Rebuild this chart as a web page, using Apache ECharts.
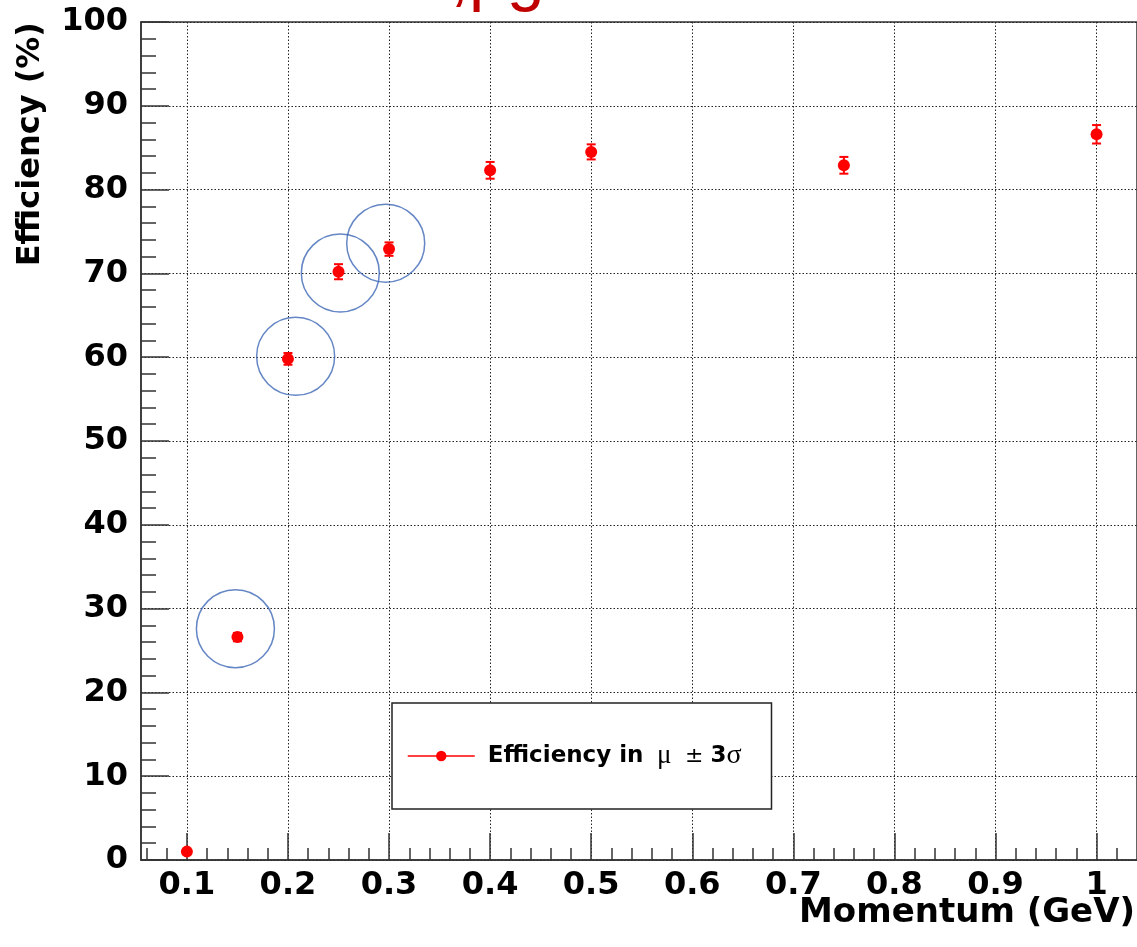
<!DOCTYPE html>
<html>
<head>
<meta charset="utf-8">
<title>Efficiency vs Momentum</title>
<script src="https://cdn.jsdelivr.net/npm/echarts@6/dist/echarts.min.js"></script>
<style>
  html, body { margin: 0; padding: 0; background: #fff; }
  #chart { width: 1137px; height: 947px; }
</style>
</head>
<body>
<div id="chart"></div>
<script>
// Momentum points (GeV) and measured efficiency (%) with symmetric errors
const momentum = [0.1, 0.15, 0.2, 0.25, 0.3, 0.4, 0.5, 0.75, 1.0];
const efficiency = [1.0, 26.6, 59.8, 70.2, 72.9, 82.3, 84.5, 82.9, 86.6];
const efficiencyErr = [0.2, 0.5, 0.7, 0.9, 0.8, 1.0, 0.9, 1.0, 1.1];

// Hand-drawn highlight rings (centre momentum, centre efficiency)
const ringX = [0.148, 0.2076, 0.2518, 0.2967];
const ringY = [27.6, 60.1, 70.05, 73.6];

// Axis tick labels
const xTickLabels = [0.1, 0.2, 0.3, 0.4, 0.5, 0.6, 0.7, 0.8, 0.9, 1];
const yTickLabels = [0, 10, 20, 30, 40, 50, 60, 70, 80, 90, 100];

const xMin = 0.0546, xMax = 1.04;

// minor ticks on the momentum axis every 0.02
const xMinorTicks = [];
for (let i = 3; i <= 51; i++) {
  if (i % 5 !== 0) xMinorTicks.push(+(i * 0.02).toFixed(2));
}

const seriesName = 'Efficiency in μ ± 3σ';
const pointData = momentum.map((m, i) => [m, efficiency[i]]);
const errData = momentum.map((m, i) => [m, efficiency[i] - efficiencyErr[i], efficiency[i] + efficiencyErr[i]]);
const ringData = ringX.map((x, i) => [x, ringY[i]]);

const axisColor = '#333';
const labelFont = { fontFamily: 'DejaVu Sans', fontWeight: 'bold', fontSize: 32, color: '#000' };
const gridDots = { color: '#222', width: 1, type: [1.5, 2] };

const chart = echarts.init(document.getElementById('chart'), null, { renderer: 'canvas' });

chart.setOption({
  animation: false,
  backgroundColor: '#fff',
  grid: {
    left: 141, top: 22, width: 1004, height: 838,
    show: true, borderColor: axisColor, borderWidth: 1.5, backgroundColor: 'transparent'
  },
  xAxis: [
    {
      type: 'value', min: xMin, max: xMax,
      axisLine: { show: true, onZero: false, lineStyle: { color: axisColor, width: 1.5 } },
      axisTick: { show: true, inside: true, length: 27, customValues: xTickLabels, lineStyle: { color: axisColor, width: 1.5 } },
      axisLabel: { show: true, margin: 10, customValues: xTickLabels, formatter: v => String(v), ...labelFont },
      splitLine: { show: true, lineStyle: gridDots },
      minorTick: { show: false }
    },
    {
      type: 'value', min: xMin, max: xMax, position: 'bottom',
      axisLine: { show: false },
      axisTick: { show: true, inside: true, length: 12, customValues: xMinorTicks, lineStyle: { color: axisColor, width: 1.5 } },
      axisLabel: { show: false },
      splitLine: { show: false }
    }
  ],
  yAxis: {
    type: 'value', min: 0, max: 100, interval: 10,
    axisLine: { show: true, onZero: false, lineStyle: { color: axisColor, width: 1.5 } },
    axisTick: { show: true, inside: true, length: 28, lineStyle: { color: axisColor, width: 1.5 } },
    minorTick: { show: true, splitNumber: 5, length: 15, lineStyle: { color: axisColor, width: 1.5 } },
    axisLabel: {
      margin: 13, ...labelFont,
      formatter: v => (yTickLabels.indexOf(v) >= 0 ? String(v) : '')
    },
    splitLine: { show: true, lineStyle: gridDots }
  },
  legend: {
    show: true,
    data: [seriesName],
    left: 392, top: 703,
    orient: 'vertical',
    padding: [39, 30, 39, 15],
    backgroundColor: '#fff',
    borderColor: '#222', borderWidth: 1.5, borderRadius: 0,
    itemWidth: 67, itemHeight: 13,
    lineStyle: { color: '#ff0000', width: 1.5, opacity: 1 },
    itemStyle: { color: '#ff0000' },
    selectedMode: false,
    formatter: () => '{b|Efficiency in}{m|  μ  }{s|± }{b|3}{g|σ}',
    textStyle: {
      padding: [0, 0, 0, 8],
      lineHeight: 24,
      rich: {
        b: { fontFamily: 'DejaVu Sans', fontWeight: 'bold', fontSize: 23, color: '#000', lineHeight: 24 },
        m: { fontFamily: 'Liberation Serif', fontSize: 27, color: '#000', lineHeight: 24 },
        s: { fontFamily: 'DejaVu Sans', fontSize: 22, color: '#000', lineHeight: 24 },
        g: { fontFamily: 'Liberation Serif', fontSize: 28, color: '#000', lineHeight: 24 }
      }
    }
  },
  graphic: [
    {
      type: 'text', x: 1135, y: 913, z: 10,
      style: { text: 'Momentum (GeV)', textAlign: 'right', textVerticalAlign: 'middle',
        font: 'bold 34px "DejaVu Sans"', fill: '#000' }
    },
    {
      type: 'text', x: 31, y: 22, rotation: Math.PI / 2, z: 10,
      style: { text: 'Efficiency (%)', textAlign: 'right', textVerticalAlign: 'middle',
        font: 'bold 32px "DejaVu Sans"', fill: '#000' }
    },
    {
      // heading sits above the page edge; only its descenders show
      type: 'text', x: 450, y: 13, z: 10,
      style: { text: ',pg', textAlign: 'left', textVerticalAlign: 'bottom',
        font: '68px "Liberation Sans"', fill: '#c00000' }
    }
  ],
  series: [
    {
      name: 'errors', type: 'custom', z: 3,
      data: errData,
      encode: { x: 0, y: [1, 2] },
      silent: true,
      renderItem: (params, api) => {
        const x = api.value(0);
        const top = api.coord([x, api.value(2)]);
        const bot = api.coord([x, api.value(1)]);
        const cap = 4.5;
        const st = { stroke: '#ff0000', lineWidth: 2 };
        return {
          type: 'group',
          children: [
            { type: 'line', shape: { x1: top[0], y1: top[1], x2: bot[0], y2: bot[1] }, style: st },
            { type: 'line', shape: { x1: top[0] - cap, y1: top[1], x2: top[0] + cap, y2: top[1] }, style: st },
            { type: 'line', shape: { x1: bot[0] - cap, y1: bot[1], x2: bot[0] + cap, y2: bot[1] }, style: st }
          ]
        };
      }
    },
    {
      name: seriesName, type: 'line', z: 4,
      data: pointData,
      symbol: 'circle', symbolSize: 12, showAllSymbol: true,
      lineStyle: { width: 0, opacity: 0 },
      itemStyle: { color: '#ff0000', borderWidth: 0 },
      emphasis: { disabled: true },
      silent: true
    },
    {
      name: 'rings', type: 'scatter', z: 5,
      data: ringData,
      symbol: 'circle', symbolSize: 78,
      itemStyle: { color: 'rgba(0,0,0,0)', borderColor: '#3d68b5', borderWidth: 1.5 },
      emphasis: { disabled: true },
      silent: true
    }
  ]
});
</script>
</body>
</html>
